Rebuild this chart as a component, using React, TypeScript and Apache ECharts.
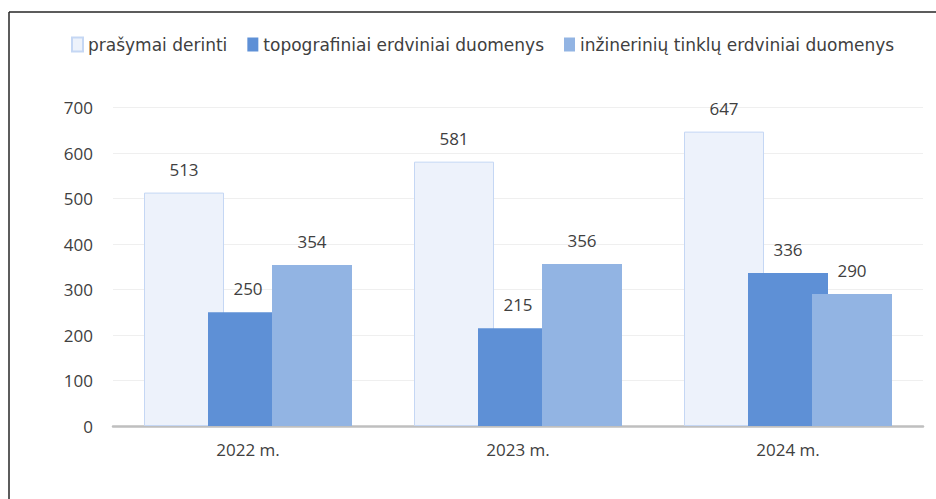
import React, { useEffect, useRef } from "react";
import * as echarts from "echarts";

const categories = ["2022 m.", "2023 m.", "2024 m."];
const seriesNames = [
  "prašymai derinti",
  "topografiniai erdviniai duomenys",
  "inžinerinių tinklų erdviniai duomenys",
];
const prasymai = [513, 581, 647];
const topografiniai = [250, 215, 336];
const inzineriniai = [354, 356, 290];
const yTicks = { min: 0, max: 700, interval: 100 };

const FONT = "Open Sans";
const TEXT = "#404040";

export default function App() {
  const ref = useRef<HTMLDivElement>(null);
  useEffect(() => {
    if (!ref.current) return;
    const chart = echarts.init(ref.current, undefined, { renderer: "svg" });
    const label = {
      show: true,
      position: "top",
      distance: 15,
      color: TEXT,
      fontSize: 17,
      fontFamily: FONT,
    };
    chart.setOption({
      animation: false,
      backgroundColor: "#ffffff",
      textStyle: { fontFamily: FONT },
      graphic: [
        {
          type: "line",
          shape: { x1: 9, y1: 12, x2: 936, y2: 12 },
          style: { stroke: "#262626", lineWidth: 1.5 },
          silent: true,
        },
        {
          type: "line",
          shape: { x1: 9, y1: 12, x2: 9, y2: 499 },
          style: { stroke: "#262626", lineWidth: 1.5 },
          silent: true,
        },
      ],
      legend: {
        top: 31,
        left: 66,
        itemWidth: 11,
        itemHeight: 14,
        itemGap: 20,
        icon: "rect",
        data: seriesNames,
        textStyle: { color: TEXT, fontSize: 17, fontFamily: "DejaVu Sans" },
      },
      grid: { left: 113, right: 13, top: 107.5, bottom: 73 },
      xAxis: {
        type: "category",
        data: categories,
        axisLine: { lineStyle: { color: "#BFBFBF", width: 2.5 } },
        axisTick: { show: false },
        axisLabel: { color: TEXT, fontSize: 17, fontFamily: FONT, margin: 15 },
      },
      yAxis: {
        type: "value",
        min: yTicks.min,
        max: yTicks.max,
        interval: yTicks.interval,
        axisLine: { show: false },
        axisTick: { show: false },
        splitLine: { lineStyle: { color: "#EFEFEF", width: 1 } },
        axisLabel: { color: TEXT, fontSize: 17, fontFamily: FONT, margin: 20 },
      },
      series: [
        {
          name: seriesNames[0],
          type: "bar",
          data: prasymai,
          barWidth: 80,
          barGap: "-20%",
          itemStyle: { color: "#EDF2FB", borderColor: "#C5D7F4", borderWidth: 1 },
          label,
        },
        {
          name: seriesNames[1],
          type: "bar",
          data: topografiniai,
          barWidth: 80,
          barGap: "-20%",
          itemStyle: { color: "#5E90D6" },
          label,
        },
        {
          name: seriesNames[2],
          type: "bar",
          data: inzineriniai,
          barWidth: 80,
          barGap: "-20%",
          itemStyle: { color: "#92B4E3" },
          label,
        },
      ],
    });
    return () => chart.dispose();
  }, []);
  return (
    <div
      ref={ref}
      style={{ position: "fixed", left: 0, top: 0, width: 936, height: 499 }}
    />
  );
}
